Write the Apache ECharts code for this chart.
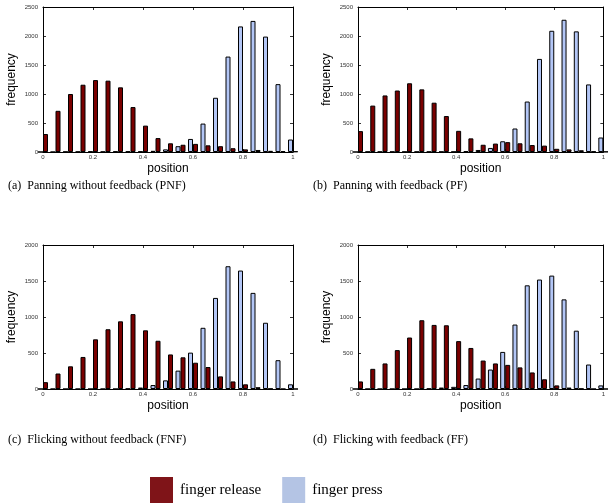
<!DOCTYPE html>
<html>
<head>
<meta charset="utf-8">
<script src="https://cdn.jsdelivr.net/npm/echarts@6/dist/echarts.min.js"></script>
<style>
  html, body { margin: 0; padding: 0; background: #fff; }
  #chart { width: 608px; height: 504px; }
</style>
</head>
<body>
<div id="chart"></div>
<script>
// Histogram bin centres along the normalised position axis
const positions = [0, 0.05, 0.1, 0.15, 0.2, 0.25, 0.3, 0.35, 0.4, 0.45, 0.5,
                   0.55, 0.6, 0.65, 0.7, 0.75, 0.8, 0.85, 0.9, 0.95, 1];

// Panning without feedback (PNF)
const pnfRelease = [310, 710, 1000, 1160, 1240, 1230, 1115, 775, 455, 240, 150,
                    125, 140, 115, 100, 65, 45, 35, 20, 15, 10];
const pnfPress   = [0, 0, 5, 5, 10, 5, 10, 10, 10, 20, 45,
                    100, 225, 490, 935, 1645, 2165, 2260, 1990, 1170, 215];

// Panning with feedback (PF)
const pfRelease = [360, 800, 975, 1060, 1185, 1080, 850, 620, 365, 235, 125,
                   145, 170, 150, 120, 110, 55, 45, 30, 10, 5];
const pfPress   = [0, 5, 5, 5, 5, 5, 5, 5, 5, 15, 35,
                   70, 185, 405, 870, 1605, 2090, 2280, 2080, 1165, 250];

// Flicking without feedback (FNF)
const fnfRelease = [95, 215, 315, 445, 690, 830, 940, 1040, 815, 670, 480,
                    440, 365, 305, 175, 105, 65, 25, 5, 0, 0];
const fnfPress   = [0, 0, 0, 0, 0, 0, 0, 5, 20, 55, 120,
                    255, 505, 850, 1265, 1705, 1645, 1335, 920, 400, 65];

// Flicking with feedback (FF)
const ffRelease = [105, 280, 355, 540, 715, 955, 890, 885, 665, 570, 395,
                   355, 335, 300, 230, 135, 50, 20, 5, 0, 0];
const ffPress   = [0, 0, 0, 0, 0, 0, 5, 20, 30, 55, 145,
                   270, 515, 895, 1440, 1520, 1575, 1245, 810, 340, 50];

// Axis ticks
const xTicks = [0, 0.2, 0.4, 0.6, 0.8, 1];
const yMaxPanning = 2500;
const yMaxFlicking = 2000;
const yStep = 500;

const captions = [
  '(a)  Panning without feedback (PNF)',
  '(b)  Panning with feedback (PF)',
  '(c)  Flicking without feedback (FNF)',
  '(d)  Flicking with feedback (FF)'
];
const seriesNames = ['finger release', 'finger press'];

const panels = [
  { release: pnfRelease, press: pnfPress, yMax: yMaxPanning,  grid: { left: 43,  top: 7,   width: 250, height: 145 } },
  { release: pfRelease,  press: pfPress,  yMax: yMaxPanning,  grid: { left: 358, top: 7,   width: 250, height: 145 } },
  { release: fnfRelease, press: fnfPress, yMax: yMaxFlicking, grid: { left: 43,  top: 245, width: 250, height: 144 } },
  { release: ffRelease,  press: ffPress,  yMax: yMaxFlicking, grid: { left: 358, top: 245, width: 250, height: 144 } }
];

const RELEASE_COLOR = '#7a0000';
const PRESS_COLOR = '#b3c6f6';
const SANS = 'Liberation Sans';
const SERIF = 'Liberation Serif';

const tickLabel = { fontFamily: SANS, fontSize: 6, color: '#333' };
const axisLine = { show: true, onZero: false, lineStyle: { color: '#000', width: 1 } };
const insideTick = { show: true, inside: true, length: 3, lineStyle: { color: '#000', width: 0.8 } };

const grids = [], xAxes = [], yAxes = [], series = [], titles = [];

panels.forEach((p, i) => {
  grids.push(p.grid);
  const xBase = {
    type: 'value', gridIndex: i, min: xTicks[0], max: xTicks[xTicks.length - 1],
    interval: xTicks[1] - xTicks[0], splitLine: { show: false },
    axisLine: axisLine, axisTick: insideTick
  };
  xAxes.push(Object.assign({}, xBase, {
    position: 'bottom',
    axisLabel: Object.assign({ margin: 2, formatter: v => String(+v.toFixed(1)) }, tickLabel),
    name: 'position', nameLocation: 'middle', nameGap: 11,
    nameTextStyle: { fontFamily: SANS, fontSize: 12, color: '#000' }
  }));
  xAxes.push(Object.assign({}, xBase, { position: 'top', axisLabel: { show: false } }));

  const yBase = {
    type: 'value', gridIndex: i, min: 0, max: p.yMax, interval: yStep,
    splitLine: { show: false }, axisLine: axisLine, axisTick: insideTick
  };
  yAxes.push(Object.assign({}, yBase, {
    position: 'left',
    axisLabel: Object.assign({ margin: 5, formatter: v => String(v) }, tickLabel),
    name: 'frequency', nameLocation: 'middle', nameGap: 25,
    nameTextStyle: { fontFamily: SANS, fontSize: 12, color: '#000' }
  }));
  yAxes.push(Object.assign({}, yBase, { position: 'right', axisLabel: { show: false } }));

  const pairs = arr => positions.map((x, k) => [x, arr[k]]);
  const barStyle = color => ({ color: color, borderColor: '#000', borderWidth: 1 });
  series.push({
    type: 'bar', name: seriesNames[1], xAxisIndex: 2 * i, yAxisIndex: 2 * i,
    data: pairs(p.press), barWidth: 5, barGap: '0%', clip: true,
    itemStyle: barStyle(PRESS_COLOR), silent: true
  });
  series.push({
    type: 'bar', name: seriesNames[0], xAxisIndex: 2 * i, yAxisIndex: 2 * i,
    data: pairs(p.release), barWidth: 5, barGap: '0%', clip: true,
    itemStyle: barStyle(RELEASE_COLOR), silent: true
  });
});

const captionPos = [
  { left: 8,   top: 180 },
  { left: 313, top: 180 },
  { left: 8,   top: 434 },
  { left: 313, top: 434 }
];
captions.forEach((c, i) => {
  titles.push(Object.assign({
    text: c,
    textStyle: { fontFamily: SERIF, fontSize: 12, fontWeight: 'normal', color: '#000' },
    padding: 0
  }, captionPos[i]));
});

const chart = echarts.init(document.getElementById('chart'), null, { renderer: 'canvas' });
chart.setOption({
  animation: false,
  backgroundColor: '#fff',
  title: titles,
  grid: grids,
  xAxis: xAxes,
  yAxis: yAxes,
  legend: {
    left: 150, top: 477, padding: 0, itemGap: 21,
    itemWidth: 23, itemHeight: 26, icon: 'rect',
    selectedMode: false,
    textStyle: { fontFamily: SERIF, fontSize: 15, color: '#000', padding: [0, 0, 0, 2] },
    data: [
      { name: seriesNames[0], itemStyle: { color: '#7f1418', borderWidth: 0 } },
      { name: seriesNames[1], itemStyle: { color: '#b4c4e4', borderWidth: 0 } }
    ]
  },
  series: series
});
</script>
</body>
</html>
